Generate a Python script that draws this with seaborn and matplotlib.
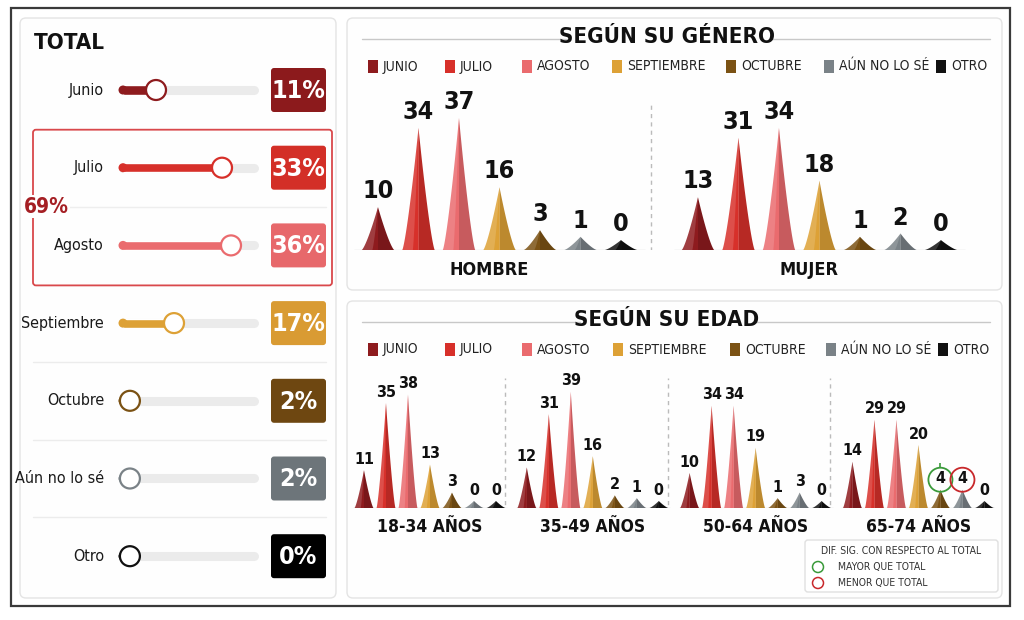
import numpy as np
import seaborn as sns
import matplotlib.pyplot as plt
import matplotlib.colors as mcolors
from matplotlib.patches import FancyBboxPatch, Rectangle, Circle

sns.set_theme(style='white')
plt.rcParams['font.family'] = ['DejaVu Sans']
plt.rcParams['font.stretch'] = 'condensed'

# Data
categories = ['Junio', 'Julio', 'Agosto', 'Septiembre', 'Octubre', 'Aún no lo sé', 'Otro']
legend_labels = ['JUNIO', 'JULIO', 'AGOSTO', 'SEPTIEMBRE', 'OCTUBRE', 'AÚN NO LO SÉ', 'OTRO']
colors = ['#8e1b1e', '#d7302a', '#ea6b6e', '#dda136', '#7b5214', '#7a8287', '#111111']
box_colors = ['#8c1a1c', '#d32f27', '#e7686b', '#d99b33', '#6e4711', '#6d757a', '#000000']
total_pct = [11, 33, 36, 17, 2, 2, 0]

gender_groups = ['HOMBRE', 'MUJER']
hombre = [10, 34, 37, 16, 3, 1, 0]
mujer = [13, 31, 34, 18, 1, 2, 0]

age_groups = ['18-34 AÑOS', '35-49 AÑOS', '50-64 AÑOS', '65-74 AÑOS']
age_18_34 = [11, 35, 38, 13, 3, 0, 0]
age_35_49 = [12, 31, 39, 16, 2, 1, 0]
age_50_64 = [10, 34, 34, 19, 1, 3, 0]
age_65_74 = [14, 29, 29, 20, 4, 4, 0]
sig_65_74 = ['', '', '', '', 'mayor', 'menor', '']

GREEN = '#3a9a3a'
RED = '#c8282b'

W, H = 1024, 620
fig = plt.figure(figsize=(W / 100, H / 100), dpi=100)
fig.patch.set_facecolor('white')

# background axes in pixel units, for panels and decoration
bg = fig.add_axes([0, 0, 1, 1])
bg.set_xlim(0, W)
bg.set_ylim(H, 0)
bg.axis('off')


def px_axes(x0, y0, x1, y1):
    ax = fig.add_axes([x0 / W, 1 - y1 / H, (x1 - x0) / W, (y1 - y0) / H])
    ax.patch.set_alpha(0)
    ax.axis('off')
    return ax


def mix(c, other, amt):
    a = np.array(mcolors.to_rgb(c))
    b = np.array(mcolors.to_rgb(other))
    return tuple(a + (b - a) * amt)


def draw_cone(ax, xc, top, half_w, color):
    d = np.linspace(0, 1, 40)
    prof = top * (1 - d) ** 1.3
    # left half lighter, right half darker, for a bit of volume
    xl = np.concatenate([[xc], xc - half_w * d, [xc]])
    yl = np.concatenate([[0], prof, [0]])
    ax.fill(xl, yl, color=mix(color, 'white', 0.15), lw=0, zorder=3)
    xr = np.concatenate([[xc], xc + half_w * d, [xc]])
    ax.fill(xr, yl, color=mix(color, 'black', 0.15), lw=0, zorder=3)
    xm = np.concatenate([[xc], xc - half_w * 0.35 * d, [xc]])
    ax.fill(xm, yl, color=color, lw=0, zorder=3)


# outer frame and panels
bg.add_patch(Rectangle((11, 8), 999, 598, fill=False, ec='#3a3a3a', lw=1.6))
for x0, y0, x1, y1 in [(20, 18, 336, 598), (347, 18, 1002, 290), (347, 301, 1002, 598)]:
    bg.add_patch(FancyBboxPatch((x0, y0), x1 - x0, y1 - y0,
                                boxstyle='round,pad=0,rounding_size=6',
                                fc='#fefefe', ec='#e4e4e4', lw=1))

# ---------------- left panel: TOTAL ----------------
bg.text(34, 43, 'TOTAL', fontsize=16, fontweight='bold', va='center', color='#111')

ROW0, ROWH = 90, 77.7


def row_y(i):
    return ROW0 + ROWH * i


# grouped Julio + Agosto box
bx_top, bx_bot = row_y(1) - 38, row_y(2) + 40
bg.add_patch(FancyBboxPatch((33, bx_top), 299, bx_bot - bx_top,
                            boxstyle='round,pad=0,rounding_size=3',
                            fill=False, ec='#d9484b', lw=1.3))
bg.plot([40, 326], [(row_y(1) + row_y(2)) / 2] * 2, color='#eeeeee', lw=1)
bg.text(46, (row_y(1) + row_y(2)) / 2, f'{total_pct[1] + total_pct[2]}%',
        fontsize=15, fontweight='bold', color='#a51f24', ha='center', va='center',
        bbox=dict(fc='white', ec='none', pad=1))
for i in [4, 5, 6]:
    bg.plot([33, 326], [row_y(i) - ROWH / 2] * 2, color='#ececec', lw=1)

for i, (cat, pct) in enumerate(zip(categories, total_pct)):
    bg.text(104, row_y(i), cat, fontsize=11.5, ha='right', va='center', color='#1a1a1a')
    bg.add_patch(FancyBboxPatch((271, row_y(i) - 22), 55, 44,
                                boxstyle='round,pad=0,rounding_size=3',
                                fc=box_colors[i], ec='none'))
    bg.text(298.5, row_y(i) + 1, f'{pct}%', fontsize=18, fontweight='bold',
            color='white', ha='center', va='center')

# sliders
sax = px_axes(112, ROW0 - ROWH / 2, 262, ROW0 + ROWH * 6.5)
sax.hlines(range(len(categories)), 0, 43.5, color='#ebebeb', lw=6.5,
           capstyle='round', zorder=0.5)
sns.barplot(x=total_pct, y=categories, hue=categories, palette=colors,
            orient='h', width=0.116, saturation=1, legend=False, ax=sax)
sax.scatter(np.zeros(len(categories)), range(len(categories)), s=42,
            c=colors, lw=0, zorder=2)
sax.scatter(np.maximum(total_pct, 2.3), range(len(categories)), s=207,
            facecolor='white', edgecolors=colors, lw=1.6, zorder=3)
sax.set_xlim(-3.67, 46.33)
sax.set_ylim(len(categories) - 0.5, -0.5)
sax.axis('off')


# ---------------- right panels: titles and legends ----------------
def panel_header(title, y, line_l, line_r, sq_x):
    bg.text(667, y, title, fontsize=16, fontweight='bold', ha='center', va='center',
            color='#111')
    bg.plot(line_l, [y + 2, y + 2], color='#c8c8c8', lw=1)
    bg.plot(line_r, [y + 2, y + 2], color='#c8c8c8', lw=1)
    ly = y + 29
    for x, lab, c in zip(sq_x, legend_labels, colors):
        bg.add_patch(Rectangle((x - 5, ly - 6.5), 10, 13, fc=c, ec='none'))
        bg.text(x + 10, ly + 0.5, lab, fontsize=10, va='center', color='#222')


panel_header('SEGÚN SU GÉNERO', 37, [362, 567], [770, 990],
             [373, 450, 527, 617, 731, 829, 941])
panel_header('SEGÚN SU EDAD', 320, [362, 580], [752, 990],
             [373, 450, 527, 618, 735, 831, 943])

# ---------------- gender cones ----------------
FLOOR = 3
gax = px_axes(350, 90, 990, 250)
g_stride = 7.9
gax.set_xlim(-0.691, 15.11)
gax.set_ylim(0, 48.5)
for g, (name, vals) in enumerate(zip(gender_groups, [hombre, mujer])):
    x0 = g * g_stride
    gax.hlines(0, x0 - 0.6, x0 + 6.6, color='#dddddd', lw=1, zorder=2)
    for i, v in enumerate(vals):
        top = v + FLOOR
        draw_cone(gax, x0 + i, top, 0.4, colors[i])
        gax.text(x0 + i, top + 1.2, str(v), fontsize=18, fontweight='bold',
                 ha='center', va='bottom', color='#111')
    gax.text(x0 + 2.75, -6.2, name, fontsize=13, fontweight='bold',
             ha='center', va='center', color='#111')
gax.vlines((6 + g_stride) / 2 - 0.2, -8, 45, color='#bbbbbb', lw=1,
           linestyles=(0, (3, 3)))

# ---------------- age cones ----------------
FLOOR_A = 2.5
aax = px_axes(350, 370, 995, 508)
a_stride = 7.4
aax.set_xlim(-0.636, 28.68)
aax.set_ylim(0, 49.3)
age_vals = [age_18_34, age_35_49, age_50_64, age_65_74]
for g, (name, vals) in enumerate(zip(age_groups, age_vals)):
    x0 = g * a_stride
    aax.hlines(0, x0 - 0.5, x0 + 6.5, color='#dddddd', lw=1, zorder=2)
    for i, v in enumerate(vals):
        top = v + FLOOR_A
        draw_cone(aax, x0 + i, top, 0.43, colors[i])
        aax.text(x0 + i, top + 1.2, str(v), fontsize=11.5, fontweight='bold',
                 ha='center', va='bottom', color='#111')
    aax.text(x0 + 3, -6.8, name, fontsize=12.5, fontweight='bold',
             ha='center', va='center', color='#111')
    if g > 0:
        aax.vlines(x0 - 1.0, -10.7, 46.4, color='#bbbbbb', lw=1,
                   linestyles=(0, (3, 3)))

# significance circles on 65-74
x0 = 3 * a_stride
for i, (v, s) in enumerate(zip(age_65_74, sig_65_74)):
    if not s:
        continue
    c = GREEN if s == 'mayor' else RED
    yc = v + FLOOR_A + 1.2 + 2.4
    aax.scatter([x0 + i], [yc], s=300, facecolor='none', edgecolors=c, lw=1.3, zorder=4)
    if s == 'mayor':
        aax.vlines(x0 + i, yc + 4.2, yc + 6, color=c, lw=1.2)

# significance legend box
bg.add_patch(FancyBboxPatch((805, 540), 193, 52, boxstyle='round,pad=0,rounding_size=3',
                            fc='white', ec='#e0e0e0', lw=1))
bg.text(901, 551, 'DIF. SIG. CON RESPECTO AL TOTAL', fontsize=7.5, ha='center',
        va='center', color='#333')
for yy, c, lab in [(567, GREEN, 'MAYOR QUE TOTAL'), (583, RED, 'MENOR QUE TOTAL')]:
    bg.add_patch(Circle((818, yy), 5.5, fill=False, ec=c, lw=1.1))
    bg.text(838, yy, lab, fontsize=7.5, va='center', color='#333')

fig.savefig('out.png', dpi=100, facecolor='white')
